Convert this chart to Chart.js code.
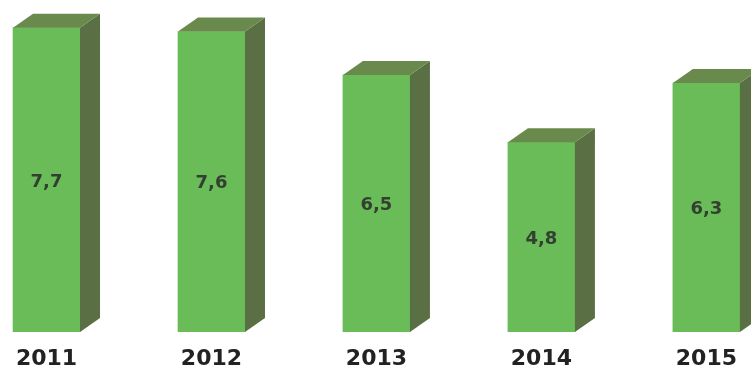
<!DOCTYPE html>
<html>
<head>
<meta charset="utf-8">
<script src="https://cdn.jsdelivr.net/npm/chart.js@4/dist/chart.umd.min.js"></script>
<style>
  html, body { margin: 0; padding: 0; background: #fff; overflow: hidden; }
  #wrap { position: relative; width: 751px; height: 369px; }
</style>
</head>
<body>
<div id="wrap"><canvas id="chart" width="751" height="369"></canvas></div>
<script>
// Data
const years = ['2011', '2012', '2013', '2014', '2015'];
const values = [7.7, 7.6, 6.5, 4.8, 6.3];

// 3D look
const frontColor = '#69bc58';
const sideColor = '#5b6f44';
const topColor = '#6a8a4d';
const depthX = 20;
const depthY = 14;

const bar3d = {
    id: 'bar3d',
    afterDatasetsDraw(chart) {
        const ctx = chart.ctx;
        const meta = chart.getDatasetMeta(0);
        ctx.save();
        meta.data.forEach((bar, i) => {
            const p = bar.getProps(['x', 'y', 'base', 'width'], true);
            const left = p.x - p.width / 2;
            const right = p.x + p.width / 2;

            // side face
            ctx.fillStyle = sideColor;
            ctx.beginPath();
            ctx.moveTo(right, p.y);
            ctx.lineTo(right + depthX, p.y - depthY);
            ctx.lineTo(right + depthX, p.base - depthY);
            ctx.lineTo(right, p.base);
            ctx.closePath();
            ctx.fill();

            // top face
            ctx.fillStyle = topColor;
            ctx.beginPath();
            ctx.moveTo(left, p.y);
            ctx.lineTo(left + depthX, p.y - depthY);
            ctx.lineTo(right + depthX, p.y - depthY);
            ctx.lineTo(right, p.y);
            ctx.closePath();
            ctx.fill();

            // value label, comma decimal
            ctx.fillStyle = '#334031';
            ctx.font = 'bold 18px "DejaVu Sans"';
            ctx.textAlign = 'center';
            ctx.textBaseline = 'middle';
            ctx.fillText(values[i].toFixed(1).replace('.', ','), p.x, (p.y + p.base) / 2 + 2);
        });
        ctx.restore();
    }
};

new Chart(document.getElementById('chart'), {
    type: 'bar',
    data: {
        datasets: [{
            data: values.map((v, i) => ({ x: i, y: v })),
            backgroundColor: frontColor,
            borderWidth: 0,
            barThickness: 67
        }]
    },
    plugins: [bar3d],
    options: {
        responsive: false,
        animation: false,
        events: [],
        layout: { padding: 0 },
        plugins: {
            legend: { display: false },
            tooltip: { enabled: false }
        },
        scales: {
            x: {
                type: 'linear',
                offset: false,
                min: -0.282,
                max: 4.27,
                grid: { display: false, drawTicks: false, offset: false },
                border: { display: false },
                afterBuildTicks: (s) => { s.ticks = years.map((_, i) => ({ value: i })); },
                afterFit: (s) => { s.height = 37; },
                ticks: {
                    autoSkip: false,
                    maxRotation: 0,
                    padding: 14,
                    color: '#222222',
                    font: { family: 'DejaVu Sans', size: 22, weight: 'bold' },
                    callback: (v) => years[v]
                }
            },
            y: {
                display: false,
                min: 0,
                max: 8.4
            }
        }
    }
});
</script>
</body>
</html>
